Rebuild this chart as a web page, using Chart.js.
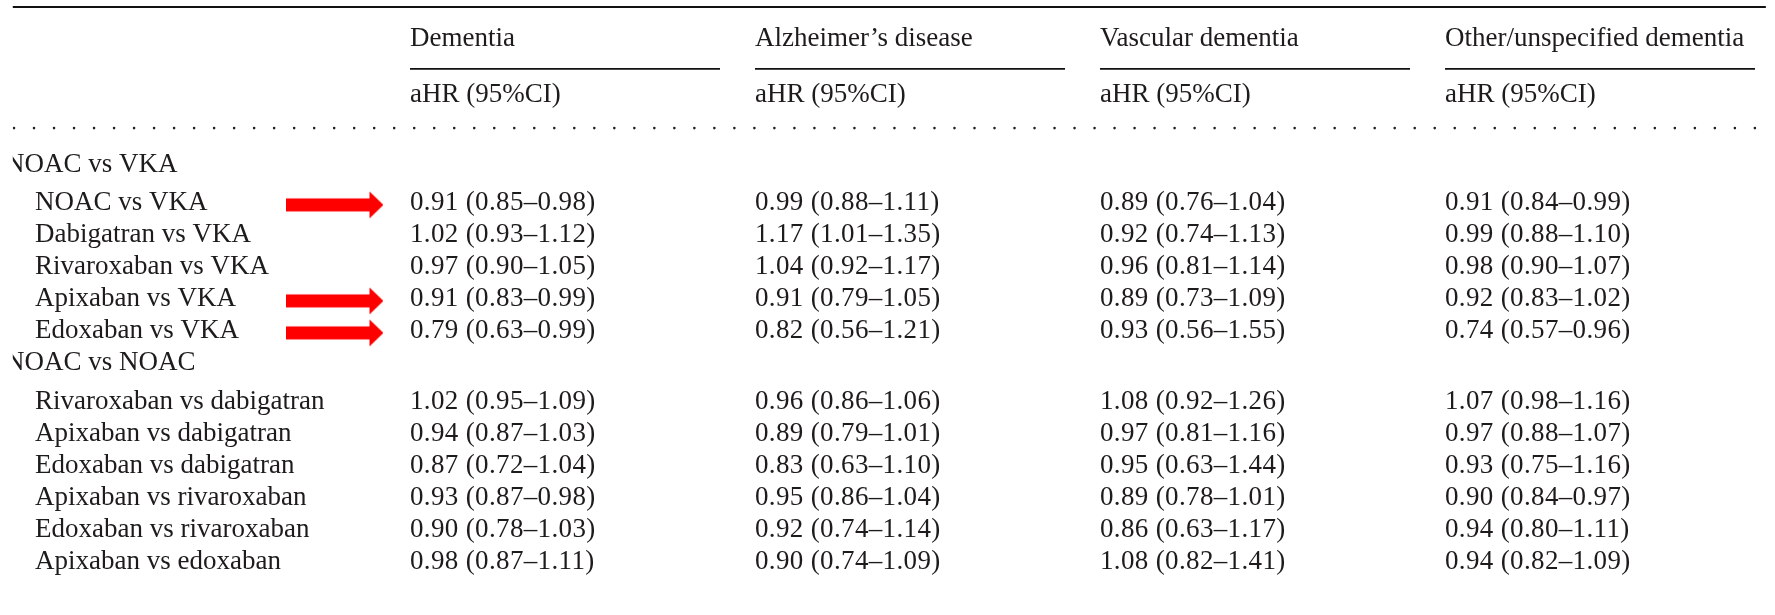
<!DOCTYPE html>
<html>
<head>
<meta charset="utf-8">
<script src="https://cdn.jsdelivr.net/npm/chart.js@4.4.1/dist/chart.umd.min.js"></script>
<style>
html,body{margin:0;padding:0;background:#fff;}
#wrap{width:1775px;height:615px;}
</style>
</head>
<body>
<div id="wrap"><canvas id="myChart"></canvas></div>
<script>
// column heads
var v_outcomes = ["Dementia", "Alzheimer\u2019s disease", "Vascular dementia", "Other/unspecified dementia"];
var v_subhead = "aHR (95%CI)";

// row groups and rows
var v_groups = ["NOAC vs VKA", "NOAC vs NOAC"];
var v_rowsVka = ["NOAC vs VKA", "Dabigatran vs VKA", "Rivaroxaban vs VKA", "Apixaban vs VKA", "Edoxaban vs VKA"];
var v_rowsNoac = ["Rivaroxaban vs dabigatran", "Apixaban vs dabigatran", "Edoxaban vs dabigatran",
                  "Apixaban vs rivaroxaban", "Edoxaban vs rivaroxaban", "Apixaban vs edoxaban"];

// [aHR, lower, upper] per row (VKA rows, then NOAC rows)
var v_dementia = [[0.91,0.85,0.98],[1.02,0.93,1.12],[0.97,0.90,1.05],[0.91,0.83,0.99],[0.79,0.63,0.99],
                  [1.02,0.95,1.09],[0.94,0.87,1.03],[0.87,0.72,1.04],[0.93,0.87,0.98],[0.90,0.78,1.03],[0.98,0.87,1.11]];
var v_alzheimer = [[0.99,0.88,1.11],[1.17,1.01,1.35],[1.04,0.92,1.17],[0.91,0.79,1.05],[0.82,0.56,1.21],
                   [0.96,0.86,1.06],[0.89,0.79,1.01],[0.83,0.63,1.10],[0.95,0.86,1.04],[0.92,0.74,1.14],[0.90,0.74,1.09]];
var v_vascular = [[0.89,0.76,1.04],[0.92,0.74,1.13],[0.96,0.81,1.14],[0.89,0.73,1.09],[0.93,0.56,1.55],
                  [1.08,0.92,1.26],[0.97,0.81,1.16],[0.95,0.63,1.44],[0.89,0.78,1.01],[0.86,0.63,1.17],[1.08,0.82,1.41]];
var v_other = [[0.91,0.84,0.99],[0.99,0.88,1.10],[0.98,0.90,1.07],[0.92,0.83,1.02],[0.74,0.57,0.96],
               [1.07,0.98,1.16],[0.97,0.88,1.07],[0.93,0.75,1.16],[0.90,0.84,0.97],[0.94,0.80,1.11],[0.94,0.82,1.09]];

// rows marked with a red arrow
var v_arrowRows = ["NOAC vs VKA", "Apixaban vs VKA", "Edoxaban vs VKA"];

var v_cols = [v_dementia, v_alzheimer, v_vascular, v_other];
var v_font = "27px 'Liberation Serif', 'Times New Roman', serif";
var v_ink = "#1e1b1c";

// row slots (1 slot = one row pitch)
var v_rows = [];
var v_slot = 0, v_idx = 0;
[v_rowsVka, v_rowsNoac].forEach(function(p_list, p_g){
  v_rows.push({label: v_groups[p_g], head: true, slot: v_slot});
  v_slot += 1.2;
  p_list.forEach(function(p_name){
    v_rows.push({label: p_name, head: false, slot: v_slot, idx: v_idx++, group: p_g});
    v_slot += 1;
  });
});

function f_ci(p_v){
  return p_v[0].toFixed(2) + " (" + p_v[1].toFixed(2) + "\u2013" + p_v[2].toFixed(2) + ")";
}

// arrow glyph used as point style
function f_arrow(){
  var c = document.createElement("canvas");
  c.width = 97; c.height = 28;
  var g = c.getContext("2d");
  g.fillStyle = "#ff0000";
  g.beginPath();
  g.moveTo(0, 7.5); g.lineTo(83, 7.5); g.lineTo(83, 0.5); g.lineTo(97, 14);
  g.lineTo(83, 27.5); g.lineTo(83, 20.5); g.lineTo(0, 20.5);
  g.closePath(); g.fill();
  return c;
}

var v_arrowPts = v_rows.filter(function(r){
  return !r.head && r.group == 0 && v_arrowRows.indexOf(r.label) >= 0;
}).map(function(r){ return {x: 0.7826, y: r.slot + 0.11}; });

// table text and rules
var v_tablePlugin = {
  id: "table",
  beforeDatasetsDraw: function(chart){
    var ctx = chart.ctx, sx = chart.scales.x, sy = chart.scales.y;
    ctx.save();
    // the source is cropped just left of the group labels
    ctx.beginPath();
    ctx.rect(sx.getPixelForValue(-0.1513), 0, chart.width, chart.height);
    ctx.clip();
    ctx.strokeStyle = "#111";
    ctx.fillStyle = v_ink;
    ctx.font = v_font;
    ctx.textBaseline = "alphabetic";
    ctx.textAlign = "left";

    // top rule
    ctx.lineWidth = 1.8;
    ctx.beginPath();
    ctx.moveTo(sx.getPixelForValue(-0.1565), sy.getPixelForValue(-4.875));
    ctx.lineTo(sx.getPixelForValue(4.930), sy.getPixelForValue(-4.875));
    ctx.stroke();

    // column heads, underlines, subheads
    for(var c=0; c<v_outcomes.length; c++){
      var x0 = sx.getPixelForValue(c + 1);
      ctx.fillText(v_outcomes[c], x0, sy.getPixelForValue(-3.95) + 9);
      ctx.beginPath();
      ctx.moveTo(x0, sy.getPixelForValue(-2.94));
      ctx.lineTo(sx.getPixelForValue(c + 1.8986), sy.getPixelForValue(-2.94));
      ctx.stroke();
      ctx.fillText(v_subhead, x0, sy.getPixelForValue(-2.19) + 9);
    }

    // dotted rule
    ctx.save();
    ctx.lineWidth = 2.6;
    ctx.lineCap = "round";
    ctx.setLineDash([0.01, 20]);
    ctx.strokeStyle = "#222";
    ctx.beginPath();
    ctx.moveTo(sx.getPixelForValue(-0.1478), sy.getPixelForValue(-1.09));
    ctx.lineTo(sx.getPixelForValue(4.93), sy.getPixelForValue(-1.09));
    ctx.stroke();
    ctx.restore();

    // rows
    for(var a=0; a<v_rows.length; a++){
      var r = v_rows[a];
      var yb = sy.getPixelForValue(r.slot) + 9;
      ctx.letterSpacing = "0px";
      if(r.head){
        ctx.fillText(r.label, sx.getPixelForValue(-0.1739), yb);
        continue;
      }
      ctx.fillText(r.label, sx.getPixelForValue(-0.087), yb);
      ctx.letterSpacing = "0.35px";
      for(var b=0; b<v_cols.length; b++){
        ctx.fillText(f_ci(v_cols[b][r.idx]), sx.getPixelForValue(b + 1), yb);
      }
    }
    ctx.restore();
  }
};

var ctx = document.getElementById("myChart").getContext("2d");
var myChart = new Chart(ctx, {
  type: "scatter",
  data: {
    datasets: [{
      data: v_arrowPts,
      pointStyle: f_arrow(),
      pointRadius: 14,
      clip: false
    }]
  },
  options: {
    responsive: true,
    maintainAspectRatio: false,
    animation: false,
    events: [],
    layout: {padding: 0, autoPadding: false},
    plugins: {legend: {display: false}, tooltip: {enabled: false}},
    scales: {
      x: {type: "linear", display: false, min: -0.18841, max: 4.95652},
      y: {type: "linear", display: false, reverse: true, min: -5.09375, max: 14.125}
    }
  },
  plugins: [v_tablePlugin]
});
</script>
</body>
</html>
